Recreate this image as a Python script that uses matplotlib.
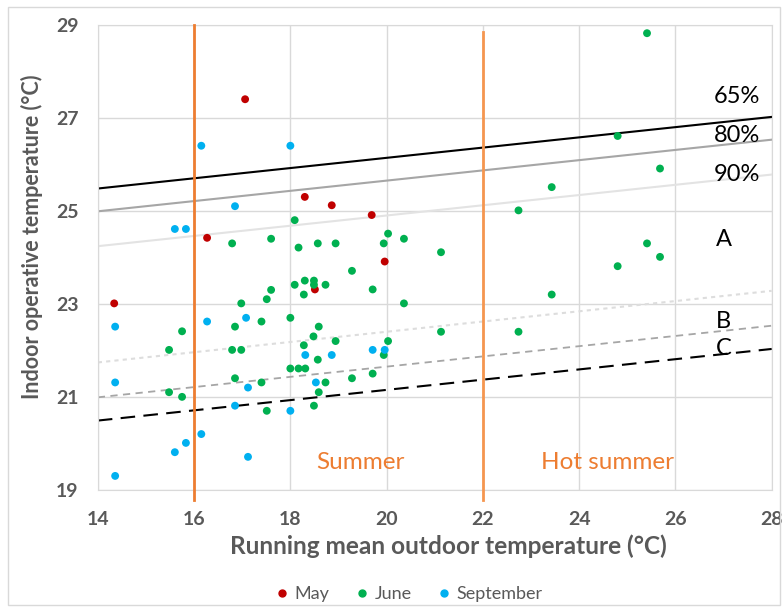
import numpy as np
import matplotlib.pyplot as plt
from matplotlib.lines import Line2D
from matplotlib.patches import Rectangle

plt.rcParams['font.family'] = ['Lato', 'DejaVu Sans']

# Measured points, per month
may_x = [17.06, 18.30, 18.86, 19.69, 16.27, 19.96, 18.51, 14.34]
may_y = [27.41, 25.31, 25.13, 24.92, 24.43, 23.92, 23.32, 23.02]

june_x = [18.09, 16.79, 17.60, 18.17, 18.57, 18.94, 20.03, 19.94, 25.41, 24.80,
          25.68, 23.43, 22.74, 20.36, 21.13, 25.41, 25.68, 24.80, 23.43, 20.36,
          21.13, 22.74, 20.03, 19.94, 19.28, 18.09, 18.30, 18.49, 18.49, 18.73,
          17.60, 17.51, 18.28, 19.71, 16.98, 16.85, 17.40, 18.00, 15.75, 18.59,
          18.48, 18.94, 18.28, 15.48, 16.79, 16.98, 18.57, 18.00, 18.17, 18.31,
          19.71, 19.28, 16.85, 17.40, 18.73, 15.48, 18.59, 15.75, 18.49, 17.51]
june_y = [24.81, 24.31, 24.41, 24.22, 24.31, 24.31, 24.52, 24.31, 28.83, 26.62,
          25.92, 25.52, 25.02, 24.41, 24.12, 24.31, 24.02, 23.82, 23.21, 23.02,
          22.41, 22.41, 22.21, 21.91, 23.72, 23.42, 23.51, 23.51, 23.42, 23.42,
          23.31, 23.11, 23.21, 23.32, 23.02, 22.52, 22.63, 22.71, 22.42, 22.52,
          22.31, 22.21, 22.12, 22.02, 22.02, 22.02, 21.81, 21.62, 21.62, 21.62,
          21.51, 21.41, 21.41, 21.32, 21.32, 21.11, 21.11, 21.01, 20.82, 20.71]

sep_x = [16.15, 18.00, 16.85, 15.60, 15.83, 14.36, 16.27, 17.08, 18.31, 18.86,
         19.71, 19.96, 14.36, 18.53, 17.12, 16.85, 18.00, 16.15, 15.83, 15.60,
         17.12, 14.36]
sep_y = [26.41, 26.41, 25.11, 24.62, 24.62, 22.52, 22.63, 22.71, 21.91, 21.91,
         22.02, 22.02, 21.32, 21.32, 21.21, 20.82, 20.71, 20.21, 20.02, 19.82,
         19.72, 19.31]

# Comfort limits: value at 14 and at 28 degC
line_labels = ['65%', '80%', '90%', 'A', 'B', 'C']
line_start = [25.49, 25.00, 24.25, 21.75, 21.00, 20.50]
line_end = [27.03, 26.54, 25.79, 23.29, 22.54, 22.04]
line_x = [14, 28]

season_bounds = [16, 22]
season_names = ['Summer', 'Hot summer']

fig = plt.figure(figsize=(7.82, 6.11), dpi=100)
ax = fig.add_axes([0.1251, 0.1975, 0.8617, 0.7611])

line_styles = [
    dict(color='black', lw=1.5, ls='-'),
    dict(color='#A6A6A6', lw=1.5, ls='-'),
    dict(color='#E3E3E3', lw=1.5, ls='-'),
    dict(color='#DDDDDD', lw=1.5, ls=(0, (2, 2))),
    dict(color='#A6A6A6', lw=1.3, ls=(0, (4, 3))),
    dict(color='black', lw=1.5, ls=(0, (7, 4))),
]
for s, e, st in zip(line_start, line_end, line_styles):
    ax.plot(line_x, [s, e], zorder=2, **st)

label_pos = [(27.27, 27.46), (27.27, 26.63), (27.27, 25.8), (27.0, 24.4), (27.0, 22.64), (27.0, 22.06)]
for lab, (lx, ly) in zip(line_labels, label_pos):
    ax.text(lx, ly, lab, fontsize=17, color='black', ha='center', va='center', zorder=5)

# season boundaries
ax.plot([season_bounds[0]] * 2, [29, 18.8], color='#ED7D31', lw=2, clip_on=False, zorder=3)
ax.plot([season_bounds[1]] * 2, [28.85, 18.8], color='#F5964F', lw=2, clip_on=False, zorder=3)
ax.text(19.45, 19.6, season_names[0], fontsize=17.5, color='#ED7D31', ha='center', va='center')
ax.text(24.58, 19.6, season_names[1], fontsize=17.5, color='#ED7D31', ha='center', va='center')

ax.scatter(may_x, may_y, s=32, color='#C00000', edgecolors='none', zorder=4)
ax.scatter(june_x, june_y, s=32, color='#00B050', edgecolors='none', zorder=4)
ax.scatter(sep_x, sep_y, s=32, color='#00B0F0', edgecolors='none', zorder=4)

ax.set_xlim(14, 28)
ax.set_ylim(19, 29)
ax.set_xticks(np.arange(14, 29, 2))
ax.set_yticks(np.arange(19, 30, 2))
ax.grid(True, color='#D9D9D9', lw=1)
ax.set_axisbelow(True)
for sp in ax.spines.values():
    sp.set_color('#D9D9D9')
ax.tick_params(length=0, labelsize=14, labelcolor='#595959')
ax.tick_params(axis='x', pad=15)
ax.tick_params(axis='y', pad=14)
for t in ax.get_xticklabels() + ax.get_yticklabels():
    t.set_fontweight('bold')

ax.set_xlabel('Running mean outdoor temperature (°C)', fontsize=17.6, fontweight='bold',
              color='#595959')
ax.set_ylabel('Indoor operative temperature (°C)', fontsize=15.5, fontweight='bold',
              color='#595959')
ax.xaxis.set_label_coords(0.52, -0.094)
ax.yaxis.set_label_coords(-0.0813, 0.546)

handles = [Line2D([], [], marker='o', ls='none', color=c, markersize=5)
           for c in ['#C00000', '#00B050', '#00B0F0']]
fig.legend(handles, ['May', 'June', 'September'], loc='center', ncol=3,
           bbox_to_anchor=(407 / 782, 1 - 594 / 611), frameon=False, fontsize=13,
           labelcolor='#595959', handletextpad=0.1, columnspacing=1.2, handlelength=1.2)

fig.patches.append(Rectangle((8 / 782, 6 / 611), 772 / 782, 598 / 611, transform=fig.transFigure,
                             fill=False, edgecolor='#D9D9D9', lw=1))

plt.savefig('out.png', dpi=100)
